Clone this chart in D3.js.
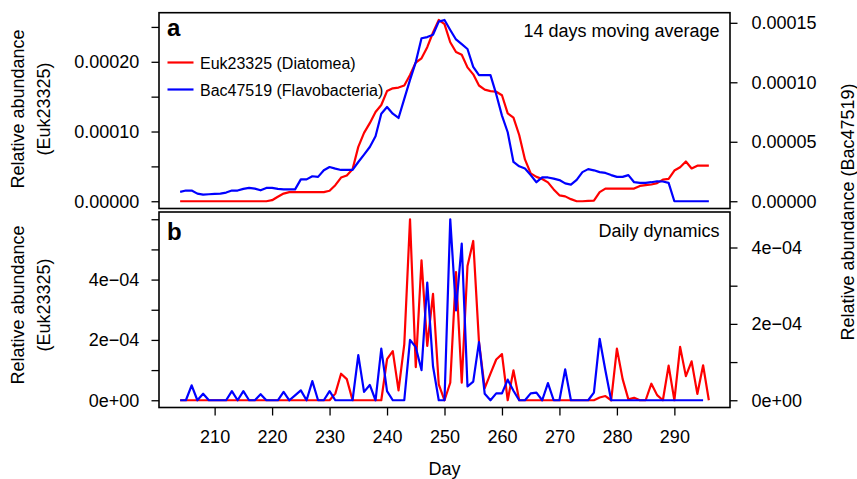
<!DOCTYPE html>
<html lang="en">

<head>
    <meta charset="UTF-8">
    <title>Euk23325 vs Bac47519</title>
    <style>
        body { margin: 0; background: #fff; }
        svg text { font-family: "Liberation Sans", Arial, Helvetica, sans-serif; fill: #000; }
    </style>
</head>

<body>
    <script src="https://d3js.org/d3.v7.min.js"></script>
    <script>
        // data: sampling days and relative abundances
        var days = [204, 205, 206, 207, 208, 209, 210, 211, 212, 213, 214, 215, 216, 217, 218, 219, 220,
            221, 222, 223, 224, 225, 226, 227, 228, 229, 230, 231, 232, 233, 234, 235, 236, 237, 238, 239, 240,
            241, 242, 243, 244, 245, 246, 247, 248, 249, 250, 251, 252, 253, 254, 255, 256, 257, 258, 259, 260,
            261, 262, 263, 264, 265, 266, 267, 268, 269, 270, 271, 272, 273, 274, 275, 276, 277, 278, 279, 280,
            281, 282, 283, 284, 285, 286, 287, 288, 289, 290, 291, 292, 293, 294, 295, 296];

        // 14 days moving average (panel a)
        var eukAvg = [0, 0, 0, 0, 0, 0, 0, 0, 0, 0, 0, 0, 0, 0, 0, 0,
            0.15e-5, 0.65e-5, 1.1e-5, 1.3e-5, 1.3e-5, 1.3e-5, 1.3e-5, 1.3e-5, 1.3e-5, 1.3e-5, 1.5e-5,
            2.3e-5, 3.4e-5, 3.7e-5, 4.6e-5, 7.8e-5, 9.8e-5, 11.2e-5, 12.8e-5, 13.8e-5, 15.8e-5,
            16.2e-5, 16.3e-5, 16.6e-5, 18.1e-5, 19.9e-5, 20.5e-5, 22.1e-5, 24.2e-5, 26.0e-5, 25.4e-5,
            22.8e-5, 21.4e-5, 21.0e-5, 19.2e-5, 18.2e-5, 16.6e-5, 16.0e-5, 15.8e-5, 15.7e-5, 15.2e-5,
            12.6e-5, 12.0e-5, 9.5e-5, 6.0e-5, 4.0e-5, 3.5e-5, 3.2e-5, 2.7e-5, 1.7e-5, 0.85e-5,
            0.7e-5, 0.3e-5, 0, 0, 0.05e-5, 0.1e-5, 1.3e-5, 1.82e-5, 1.82e-5, 1.82e-5,
            1.82e-5, 1.82e-5, 1.82e-5, 2.2e-5, 2.3e-5, 2.4e-5, 2.6e-5, 3.1e-5, 3.2e-5, 4.4e-5,
            4.87e-5, 5.7e-5, 4.7e-5, 5.1e-5, 5.1e-5, 5.1e-5];

        var bacAvg = [0.79e-5, 0.9e-5, 0.9e-5, 0.64e-5, 0.56e-5, 0.59e-5, 0.62e-5, 0.64e-5, 0.73e-5, 0.9e-5,
            0.9e-5, 1.04e-5, 1.12e-5, 1.06e-5, 0.92e-5, 1.12e-5, 1.12e-5, 1.04e-5, 1.0e-5, 1.0e-5,
            1.0e-5, 1.84e-5, 1.84e-5, 2.1e-5, 2.05e-5, 2.6e-5, 2.88e-5, 2.74e-5, 2.63e-5, 2.63e-5,
            2.63e-5, 3.3e-5, 3.92e-5, 4.56e-5, 5.47e-5, 7.36e-5, 7.92e-5, 7.36e-5, 7.0e-5, 8.6e-5,
            10.2e-5, 11.7e-5, 13.7e-5, 13.8e-5, 14.0e-5, 15.1e-5, 15.24e-5, 14.4e-5, 13.6e-5, 13.2e-5,
            12.8e-5, 11.3e-5, 10.6e-5, 10.6e-5, 10.6e-5, 9.0e-5, 7.2e-5, 5.8e-5, 3.3e-5, 2.94e-5,
            2.75e-5, 2.2e-5, 1.6e-5, 2.0e-5, 2.0e-5, 1.9e-5, 1.78e-5, 1.5e-5, 1.4e-5, 1.8e-5,
            2.45e-5, 2.7e-5, 2.6e-5, 2.45e-5, 2.38e-5, 2.2e-5, 2.05e-5, 2.05e-5, 2.2e-5, 1.6e-5,
            1.54e-5, 1.54e-5, 1.6e-5, 1.68e-5, 1.66e-5, 1.54e-5, 0, 0, 0, 0, 0, 0, 0];

        // daily dynamics (panel b)
        var eukDaily = [0, 0, 0, 0, 0, 0, 0, 0, 0, 0, 0, 0, 0, 0, 0, 0, 0, 0, 0, 0, 0, 0, 0, 0, 0, 0, 0,
            0.22e-4, 0.88e-4, 0.70e-4, 0, 0, 0, 0, 0, 0, 1.36e-4, 1.63e-4, 0.33e-4, 1.85e-4, 6.0e-4,
            1.10e-4, 4.64e-4, 1.80e-4, 3.53e-4, 0.53e-4, 0, 0.58e-4, 4.25e-4, 0.58e-4, 4.45e-4, 5.28e-4,
            1.93e-4, 0.40e-4, 0.88e-4, 1.35e-4, 1.53e-4, 0, 0.99e-4,
            0, 0, 0, 0, 0, 0, 0, 0, 0, 0, 0, 0, 0, 0,
            0.09e-4, 0.14e-4, 0, 1.71e-4, 0.70e-4, 0.03e-4, 0.08e-4, 0, 0, 0.55e-4, 0.17e-4, 0,
            1.15e-4, 0, 1.77e-4, 0.8e-4, 1.29e-4, 0.21e-4, 1.16e-4, 0];

        var bacDaily = [0, 0, 0.39e-4, 0, 0.17e-4, 0, 0, 0, 0, 0.24e-4, 0, 0.24e-4, 0, 0, 0.16e-4, 0, 0, 0,
            0.22e-4, 0, 0.13e-4, 0.26e-4, 0, 0.50e-4, 0, 0, 0.24e-4, 0, 0, 0, 0, 1.18e-4, 0.22e-4,
            0.40e-4, 0, 1.35e-4, 0.24e-4, 0, 0, 0, 1.58e-4, 1.39e-4, 0.79e-4, 3.08e-4, 0.89e-4, 0, 0,
            4.74e-4, 2.35e-4, 4.10e-4, 0.36e-4, 0.49e-4, 1.52e-4, 0.17e-4, 0, 0.18e-4, 0.18e-4, 0.54e-4,
            0.25e-4, 0, 0, 0.18e-4, 0.2e-4, 0, 0.45e-4, 0, 0, 0.81e-4, 0, 0, 0, 0, 0.2e-4, 1.61e-4,
            0.78e-4, 0, 0, 0, 0, 0, 0, 0, 0, 0, 0, 0, 0, 0, 0, 0, 0, 0];

        // ticks
        var xTicks = [210, 220, 230, 240, 250, 260, 270, 280, 290];
        var aLeftTicks = [0, 0.00005, 0.0001, 0.00015, 0.0002, 0.00025];
        var aLeftLabels = ["0.00000", "", "0.00010", "", "0.00020", ""];
        var aRightTicks = [0, 0.00005, 0.0001, 0.00015];
        var aRightLabels = ["0.00000", "0.00005", "0.00010", "0.00015"];
        var bLeftTicks = [0, 1e-4, 2e-4, 3e-4, 4e-4, 5e-4, 6e-4];
        var bLeftLabels = ["0e+00", "", "2e\u221204", "", "4e\u221204", "", ""];
        var bRightTicks = [0, 1e-4, 2e-4, 3e-4, 4e-4];
        var bRightLabels = ["0e+00", "", "2e\u221204", "", "4e\u221204"];

        var seriesNames = ["Euk23325 (Diatomea)", "Bac47519 (Flavobacteria)"];
        var colors = ["#ff0000", "#0000ff"];

        // layout
        var width = 857, height = 479;
        var left = 159, right = 730;
        var aTop = 12.7, aBottom = 208.5;
        var bTop = 212, bBottom = 407.5;

        var svg = d3.select('body').append('svg').attr('width', width).attr('height', height);

        // R style axis range: data range + 4% on each side
        function pad(lo, hi) {
            var d = (hi - lo) * 0.04;
            return [lo - d, hi + d];
        }

        var x = d3.scaleLinear().domain(pad(d3.min(days), d3.max(days))).range([left, right]);

        var yaL = d3.scaleLinear().domain(pad(0, d3.max(eukAvg))).range([aBottom, aTop]);
        var yaR = d3.scaleLinear().domain(pad(0, d3.max(bacAvg))).range([aBottom, aTop]);
        var ybL = d3.scaleLinear().domain(pad(0, d3.max(eukDaily))).range([bBottom, bTop]);
        var ybR = d3.scaleLinear().domain(pad(0, d3.max(bacDaily))).range([bBottom, bTop]);

        function drawLine(values, yScale, color) {
            var line = d3.line()
                .x(function (d, i) { return x(days[i]); })
                .y(function (d) { return yScale(d); });
            svg.append('path')
                .datum(values)
                .attr('d', line)
                .attr('fill', 'none')
                .attr('stroke', color)
                .attr('stroke-width', 2.2)
                .attr('stroke-linejoin', 'round');
        }

        function styleAxis(g) {
            g.selectAll('path, line').attr('stroke', '#000').attr('stroke-width', 1.3);
            g.selectAll('text').attr('font-size', 18)
                .attr('font-family', '"Liberation Sans", Arial, Helvetica, sans-serif')
                .attr('fill', '#000');
        }

        function yAxis(axisFn, scale, ticks, labels, xPos, padding) {
            var g = svg.append('g')
                .attr('transform', 'translate(' + xPos + ',0)')
                .call(axisFn(scale).tickValues(ticks)
                    .tickFormat(function (d, i) { return labels[i]; })
                    .tickSize(7.5).tickSizeOuter(0).tickPadding(padding));
            g.select('.domain').remove();
            styleAxis(g);
        }

        // lines
        drawLine(eukAvg, yaL, colors[0]);
        drawLine(bacAvg, yaR, colors[1]);
        drawLine(eukDaily, ybL, colors[0]);
        drawLine(bacDaily, ybR, colors[1]);

        // boxes
        [[aTop, aBottom], [bTop, bBottom]].forEach(function (p) {
            svg.append('rect')
                .attr('x', left).attr('y', p[0])
                .attr('width', right - left).attr('height', p[1] - p[0])
                .attr('fill', 'none').attr('stroke', '#000').attr('stroke-width', 1.6);
        });

        // axes
        yAxis(d3.axisLeft, yaL, aLeftTicks, aLeftLabels, left, 12.2);
        yAxis(d3.axisRight, yaR, aRightTicks, aRightLabels, right, 14);
        yAxis(d3.axisLeft, ybL, bLeftTicks, bLeftLabels, left, 12.2);
        yAxis(d3.axisRight, ybR, bRightTicks, bRightLabels, right, 14);

        var gx = svg.append('g')
            .attr('transform', 'translate(0,' + bBottom + ')')
            .call(d3.axisBottom(x).tickValues(xTicks).tickSize(8).tickSizeOuter(0).tickPadding(15));
        gx.select('.domain').remove();
        styleAxis(gx);

        // panel letters and titles
        svg.append('text').attr('x', 167).attr('y', 36).attr('font-size', 24).attr('font-weight', 'bold').text('a');
        svg.append('text').attr('x', 167).attr('y', 240).attr('font-size', 24).attr('font-weight', 'bold').text('b');
        svg.append('text').attr('x', 719.5).attr('y', 36.5).attr('font-size', 18).attr('text-anchor', 'end')
            .text('14 days moving average');
        svg.append('text').attr('x', 719.5).attr('y', 236.5).attr('font-size', 18).attr('text-anchor', 'end')
            .text('Daily dynamics');

        // legend
        var legend = svg.append('g');
        seriesNames.forEach(function (name, i) {
            var ly = 62.5 + i * 27;
            legend.append('line')
                .attr('x1', 167.5).attr('x2', 193.5).attr('y1', ly).attr('y2', ly)
                .attr('stroke', colors[i]).attr('stroke-width', 2.2);
            legend.append('text').attr('x', 200).attr('y', ly + 6.3).attr('font-size', 16).text(name);
        });

        // axis titles
        [109, 305].forEach(function (cy) {
            svg.append('text').attr('transform', 'translate(24,' + cy + ') rotate(-90)')
                .attr('text-anchor', 'middle').attr('font-size', 18).text('Relative abundance');
            svg.append('text').attr('transform', 'translate(49.5,' + cy + ') rotate(-90)')
                .attr('text-anchor', 'middle').attr('font-size', 18).text('(Euk23325)');
        });
        svg.append('text').attr('transform', 'translate(853.5,212) rotate(-90)')
            .attr('text-anchor', 'middle').attr('font-size', 18).text('Relative abundance (Bac47519)');
        svg.append('text').attr('x', (left + right) / 2).attr('y', 475)
            .attr('text-anchor', 'middle').attr('font-size', 18).text('Day');
    </script>
</body>

</html>
